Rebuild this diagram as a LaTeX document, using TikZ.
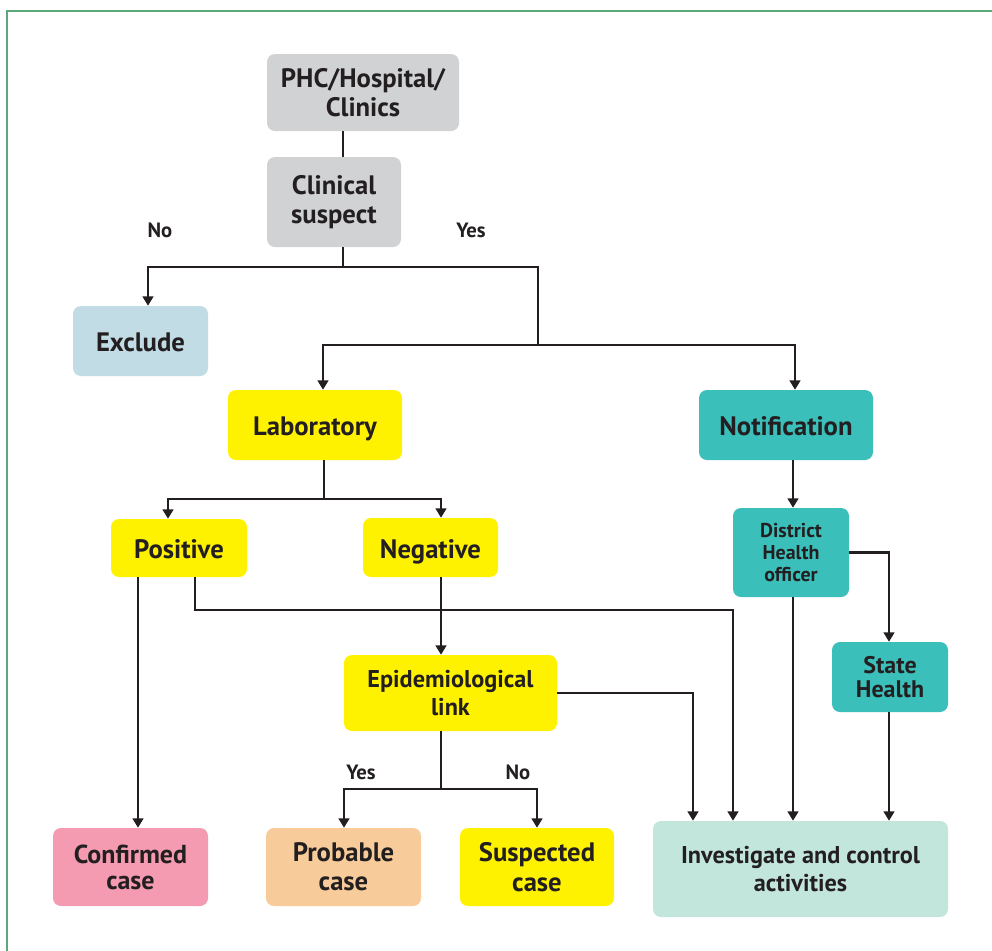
\documentclass[tikz,border=0pt]{standalone}
\usepackage{fontspec}
\setmainfont{PT Sans}
\usetikzlibrary{arrows.meta}
\definecolor{frameG}{RGB}{92,168,124}
\definecolor{boxGray}{RGB}{209,210,212}
\definecolor{boxBlue}{RGB}{193,220,228}
\definecolor{boxYel}{RGB}{255,242,0}
\definecolor{boxTeal}{RGB}{59,191,186}
\definecolor{boxPink}{RGB}{244,154,177}
\definecolor{boxPeach}{RGB}{248,203,155}
\definecolor{boxMint}{RGB}{195,230,220}
\definecolor{ink}{RGB}{35,31,32}
\begin{document}
\begin{tikzpicture}[x=0.75pt,y=-0.75pt,
  box/.style={rectangle, rounded corners=6pt, draw=none, inner sep=0pt, align=center, text=ink, font=\bfseries\fontsize{20}{22}\selectfont},
  oneline/.style={text height=16pt, text depth=0pt},
  midtext/.style={font=\bfseries\fontsize{18.2}{20.8}\selectfont},
  lbl/.style={text=ink, inner sep=0pt, font=\bfseries\fontsize{15.5}{17}\selectfont},
  conn/.style={draw=ink, line width=1.6pt},
  arr/.style={conn, -{Triangle[width=8pt,length=7pt]}}]
\useasboundingbox (0,0) rectangle (992,950);
\clip (0,0) rectangle (992,950);
\fill[white] (0,0) rectangle (992,950);
\draw[frameG, line width=1.6pt] (7,11) rectangle (1010,970);

% nodes
\node[box, fill=boxGray, minimum width=144pt, minimum height=57.75pt] (phc) at (363,92.5) {PHC/Hospital/\\Clinics};
\node[box, fill=boxGray, minimum width=100.5pt, minimum height=67.5pt] (clin) at (334,202) {Clinical\\suspect};
\node[box, oneline, fill=boxBlue, minimum width=101.25pt, minimum height=52.5pt] (excl) at (140.5,341) {Exclude};
\node[box, oneline, fill=boxYel, minimum width=130.5pt, minimum height=52.5pt] (lab) at (315,425) {Laboratory};
\node[box, oneline, fill=boxTeal, minimum width=130.5pt, minimum height=52.5pt] (notif) at (786,425) {Notification};
\node[box, oneline, fill=boxYel, minimum width=102pt, minimum height=43.5pt] (pos) at (179,548) {Positive};
\node[box, oneline, fill=boxYel, minimum width=101.25pt, minimum height=44.25pt] (neg) at (430.5,547.5) {Negative};
\node[box, fill=boxTeal, minimum width=87pt, minimum height=66.75pt, font=\bfseries\fontsize{15}{16.3}\selectfont] (dho) at (791,552.5) {District\\Health\\officer};
\node[box, midtext, fill=boxYel, minimum width=159.75pt, minimum height=57pt] (epi) at (450.5,693) {Epidemiological\\link};
\node[box, fill=boxTeal, minimum width=87pt, minimum height=52.5pt, font=\bfseries\fontsize{18}{18}\selectfont] (state) at (890,677) {State\\Health};
\node[box, fill=boxPink, minimum width=116.25pt, minimum height=58.5pt, font=\bfseries\fontsize{19.5}{19.5}\selectfont] (conf) at (130.5,867) {Confirmed\\case};
\node[box, fill=boxPeach, minimum width=116.25pt, minimum height=58.5pt] (prob) at (343.5,867) {Probable\\case};
\node[box, fill=boxYel, minimum width=115.5pt, minimum height=58.5pt] (susp) at (537,867) {Suspected\\case};
\node[box, midtext, fill=boxMint, minimum width=221.25pt, minimum height=72pt] (inv) at (800.5,869) {Investigate and control\\activities};

% labels
\node[lbl] (no1) at (160,230) {No};
\node[lbl] (yes1) at (471,230) {Yes};
\node[lbl] (yes2) at (361,772) {Yes};
\node[lbl] (no2) at (518,772) {No};

% helper coordinates
\coordinate (c1) at (343,267);
\coordinate (c2) at (538,267);
\coordinate (c3) at (538,345);
\coordinate (c4) at (324,499);
\coordinate (c5) at (195,610);
\coordinate (c6) at (441,789);
\coordinate (xa) at (148,0);
\coordinate (xb) at (323,0);
\coordinate (xc) at (795,0);
\coordinate (xd) at (168,0);
\coordinate (xe) at (441,0);
\coordinate (xf) at (138,0);
\coordinate (xg) at (733,0);
\coordinate (xh) at (693,0);
\coordinate (xi) at (793,0);
\coordinate (xj) at (889,0);
\coordinate (xk) at (344,0);

% connectors
\draw[conn] (phc.south -| c1) -- (clin.north -| c1);
\draw[arr] (clin.south -| c1) -- (c1) -| (excl.north -| xa);
\draw[conn] (c1) -- (c2) -- (c3);
\draw[arr] (c3) -| (lab.north -| xb);
\draw[arr] (c3) -| (notif.north -| xc);
\draw[arr] (lab.south -| c4) -- (c4) -| (pos.north -| xd);
\draw[arr] (c4) -| (neg.north -| xe);
\draw[arr] (pos.south -| xf) -- (conf.north -| xf);
\draw[arr] (pos.south -| c5) -- (c5) -| (inv.north -| xg);
\draw[arr] (neg.south -| xe) -- (epi.north -| xe);
\draw[arr] (epi.east) -| (inv.north -| xh);
\draw[arr] (epi.south -| c6) -- (c6) -| (prob.north -| xk);
\draw[arr] (c6) -| (susp.north);
\draw[arr] (notif.south -| xi) -- (dho.north -| xi);
\draw[arr] (dho.east) -| (state.north -| xj);
\draw[arr] (dho.south -| xi) -- (inv.north -| xi);
\draw[arr] (state.south -| xj) -- (inv.north -| xj);
\end{tikzpicture}
\end{document}
